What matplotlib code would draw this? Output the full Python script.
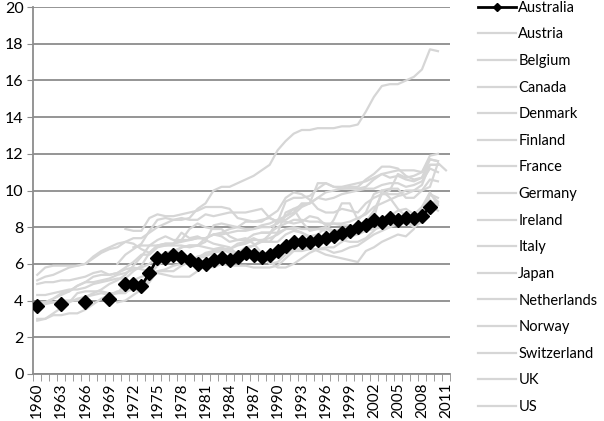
import numpy as np
import matplotlib
matplotlib.use("Agg")
import matplotlib.pyplot as plt
from matplotlib.lines import Line2D

nan = np.nan
years = list(range(1960, 2012))

# health spending, % of GDP (nan = no data)
australia = [3.7, nan, nan, 3.8, nan, nan, 3.9, nan, nan, 4.1,
             nan, 4.9, 4.9, 4.8, 5.5, 6.3, 6.3, 6.5, 6.4, 6.2,
             6.0, 6.0, 6.2, 6.3, 6.2, 6.4, 6.6, 6.5, 6.4, 6.5,
             6.7, 7.0, 7.2, 7.2, 7.2, 7.3, 7.4, 7.5, 7.7, 7.8,
             8.0, 8.1, 8.4, 8.3, 8.5, 8.4, 8.5, 8.5, 8.6, 9.1]

others = {
    "Austria": [4.3, 4.3, 4.4, 4.5, 4.6, 4.6, 4.7, 4.9, 5.0, 5.1,
                5.2, 5.2, 5.6, 5.9, 6.6, 7.0, 7.1, 7.1, 7.7, 7.4,
                7.5, 7.3, 7.1, 7.0, 6.9, 6.5, 6.8, 7.0, 7.2, 7.6,
                8.4, 8.4, 8.7, 9.1, 9.3, 9.6, 9.5, 9.6, 9.8, 9.9,
                10.0, 10.1, 10.1, 10.3, 10.4, 10.4, 10.2, 10.3, 10.5, 11.2, 11.0],
    "Belgium": [nan] * 10 +
               [3.9, 4.0, 4.3, 4.6, 5.0, 5.6, 5.7, 5.9, 6.0, 6.2,
                6.3, 6.6, 6.7, 6.8, 6.8, 7.0, 7.1, 7.3, 7.3, 7.2,
                7.2, 7.6, 7.8, 7.7, 7.5, 7.6, 8.0, 7.8, 7.9, 8.0,
                8.1, 8.3, 8.5, 10.0, 10.1, 10.1, 9.6, 9.6, 10.0, 10.6, 10.5],
    "Canada": [5.4, 5.8, 5.9, 5.9, 5.9, 5.9, 6.0, 6.3, 6.6, 6.8,
               6.9, 7.2, 7.1, 6.8, 6.6, 7.0, 7.0, 7.0, 7.0, 6.9,
               7.0, 7.2, 8.1, 8.2, 8.1, 8.0, 8.3, 8.3, 8.3, 8.6,
               8.9, 9.6, 9.9, 9.8, 9.5, 9.0, 8.8, 8.8, 9.0, 8.9,
               8.8, 9.3, 9.6, 9.8, 9.8, 9.8, 10.0, 10.0, 10.3, 11.4, 11.4],
    "Denmark": [nan] * 11 +
               [7.9, 7.8, 7.8, 8.5, 8.7, 8.6, 8.6, 8.7, 8.8,
                8.9, 9.1, 9.1, 9.1, 9.0, 8.5, 8.4, 8.3, 8.4, 8.5,
                8.3, 8.3, 8.2, 8.3, 8.6, 8.5, 8.1, 8.2, 8.2, 8.3,
                8.5, 8.7, 9.1, 9.3, 9.5, 9.7, 9.8, 10.0, 10.0, 10.2, 11.5, 11.1],
    "Finland": [3.8, 3.9, 4.1, 4.4, 4.5, 4.8, 5.0, 5.3, 5.4, 5.4,
                5.5, 5.7, 5.8, 5.7, 5.6, 6.2, 6.6, 6.7, 6.5, 6.2,
                6.3, 6.4, 6.6, 6.7, 6.8, 7.1, 7.2, 7.4, 7.2, 7.2,
                7.7, 8.8, 9.0, 8.3, 7.8, 7.9, 8.0, 7.6, 7.3, 7.2,
                7.2, 7.4, 7.8, 8.2, 8.2, 8.4, 8.3, 8.0, 8.3, 9.2, 8.9],
    "France": [3.8, 3.9, 4.1, 4.3, 4.5, 4.8, 5.0, 5.0, 5.1, 5.2,
               5.4, 5.5, 5.7, 5.8, 6.0, 6.4, 6.6, 6.7, 6.9, 7.0,
               7.0, 7.4, 7.6, 7.7, 7.9, 8.0, 7.9, 7.9, 8.1, 8.2,
               8.4, 8.6, 8.8, 9.3, 9.3, 10.4, 10.4, 10.2, 10.1, 10.1,
               10.1, 10.2, 10.6, 10.9, 11.0, 11.1, 11.1, 11.1, 11.0, 11.7, 11.6],
    "Germany": [nan] * 10 +
               [6.0, 6.5, 6.8, 7.1, 7.8, 8.4, 8.5, 8.4, 8.5, 8.4,
                8.4, 8.7, 8.6, 8.7, 8.8, 8.8, 8.8, 8.9, 9.0, 8.5,
                8.3, 9.4, 9.6, 9.6, 9.7, 10.1, 10.4, 10.2, 10.2, 10.3,
                10.4, 10.5, 10.7, 10.9, 10.7, 10.8, 10.6, 10.5, 10.7, 11.7, 11.6],
    "Ireland": [3.7, 3.8, 3.9, 4.0, 4.0, 4.0, 4.2, 4.4, 4.6, 4.9,
                5.1, 5.4, 5.9, 6.4, 7.0, 7.3, 7.5, 7.3, 7.3, 7.9,
                8.2, 8.0, 7.9, 7.9, 7.5, 7.3, 7.4, 7.1, 6.6, 6.0,
                6.1, 6.5, 6.8, 6.8, 6.9, 6.7, 6.5, 6.4, 6.3, 6.2,
                6.1, 6.7, 6.9, 7.2, 7.4, 7.6, 7.5, 7.9, 9.1, 9.9, 9.2],
    "Italy": [nan] * 28 +
             [7.7, 7.7, 7.7, 7.9, 7.9, 7.7, 7.4, 7.3, 7.4, 7.7,
              7.7, 7.8, 8.0, 8.2, 8.3, 8.3, 8.6, 8.9, 9.0, 8.7, 9.1, 9.4, 9.3],
    "Japan": [3.0, 3.0, 3.3, 3.6, 3.9, 4.4, 4.5, 4.5, 4.5, 4.4,
              4.4, 4.4, 4.8, 4.8, 5.2, 5.6, 5.6, 5.6, 5.9, 6.1,
              6.4, 6.5, 6.7, 6.8, 6.6, 6.5, 6.5, 6.6, 6.3, 6.1,
              5.8, 5.8, 6.0, 6.3, 6.6, 6.8, 6.9, 6.9, 7.2, 7.5,
              7.6, 7.8, 7.9, 8.0, 8.0, 8.2, 8.2, 8.2, 8.6, 9.5],
    "Netherlands": [nan] * 12 +
                   [6.9, 7.0, 7.0, 7.0, 7.1, 7.1, 7.3, 7.3,
                    7.4, 7.4, 7.6, 7.5, 7.2, 7.3, 7.3, 7.6, 7.7, 7.7,
                    8.0, 8.2, 8.4, 8.4, 8.3, 8.3, 8.2, 8.2, 8.1, 8.1,
                    8.0, 8.3, 8.9, 9.8, 10.0, 10.9, 10.7, 10.8, 11.0, 11.9, 12.0],
    "Norway": [2.9, 3.0, 3.2, 3.2, 3.3, 3.3, 3.5, 3.8, 4.1, 4.3,
               4.4, 4.9, 5.1, 5.3, 5.4, 5.9, 6.2, 6.5, 6.9, 7.0,
               7.0, 6.9, 6.8, 6.9, 6.7, 6.6, 6.9, 7.0, 7.3, 7.4,
               7.6, 7.9, 8.0, 7.9, 7.9, 7.9, 7.8, 8.4, 9.3, 9.3,
               8.4, 8.8, 9.8, 10.0, 9.6, 9.0, 8.6, 8.7, 8.6, 9.8, 9.4],
    "Switzerland": [4.9, 5.0, 5.0, 5.1, 5.1, 5.2, 5.3, 5.5, 5.6, 5.4,
                    5.5, 5.8, 6.1, 6.5, 6.5, 6.9, 7.0, 7.1, 7.2, 7.3,
                    7.4, 7.4, 7.6, 7.6, 7.7, 7.8, 7.8, 7.9, 8.0, 8.0,
                    8.2, 8.6, 9.0, 9.2, 9.3, 9.6, 9.9, 10.0, 10.1, 10.2,
                    10.2, 10.6, 10.9, 11.3, 11.3, 11.2, 10.8, 10.6, 10.7, 11.4, 11.4],
    "UK": [3.9, 3.9, 3.9, 3.9, 3.9, 4.1, 4.2, 4.3, 4.4, 4.3,
           4.5, 4.5, 4.6, 4.5, 5.2, 5.5, 5.4, 5.3, 5.3, 5.3,
           5.6, 5.9, 5.8, 6.0, 5.9, 5.9, 5.9, 5.8, 5.8, 5.8,
           5.9, 6.3, 6.7, 6.7, 6.8, 6.8, 6.8, 6.6, 6.7, 6.9,
           7.0, 7.3, 7.6, 7.8, 8.0, 8.2, 8.4, 8.4, 8.8, 9.8, 9.6],
    "US": [5.1, 5.3, 5.4, 5.6, 5.8, 5.9, 6.0, 6.4, 6.7, 6.9,
           7.1, 7.2, 7.4, 7.4, 7.7, 8.0, 8.2, 8.4, 8.4, 8.5,
           9.0, 9.3, 10.0, 10.2, 10.2, 10.4, 10.6, 10.8, 11.1, 11.4,
           12.2, 12.7, 13.1, 13.3, 13.3, 13.4, 13.4, 13.4, 13.5, 13.5,
           13.6, 14.3, 15.1, 15.7, 15.8, 15.8, 16.0, 16.2, 16.6, 17.7, 17.6],
}

gray = "#d6d6d6"
plt.rcParams["font.family"] = ["Lato", "DejaVu Sans"]

fig = plt.figure(figsize=(6.04, 4.21), dpi=100)
ax = fig.add_axes([0.055, 0.112, 0.69, 0.871])

for name, vals in others.items():
    ax.plot(np.arange(len(vals)), vals, color=gray, lw=1.6, zorder=2)

ax.plot(np.arange(len(australia)), australia, color="black", lw=2,
        marker="D", markersize=7, zorder=5)

ax.set_xlim(-0.5, len(years) - 0.5)
ax.set_ylim(0, 20)
ax.set_yticks(range(0, 21, 2))
ax.yaxis.grid(True, color="#8c8c8c", lw=1.3)
ax.set_axisbelow(True)

ax.set_xticks(np.arange(0, len(years), 3))
ax.set_xticklabels([str(y) for y in years[::3]], rotation=90)
ax.set_xticks(np.arange(-0.5, len(years), 1), minor=True)
ax.tick_params(axis="x", which="major", length=0, pad=6, labelsize=11)
ax.tick_params(axis="x", which="minor", length=5, color="#8c8c8c", direction="out")
ax.tick_params(axis="y", length=4, color="#8c8c8c", labelsize=11.5, pad=3)

for s in ["top", "right"]:
    ax.spines[s].set_visible(False)
for s in ["left", "bottom"]:
    ax.spines[s].set_color("#8c8c8c")
    ax.spines[s].set_linewidth(1.3)

handles = [Line2D([], [], color="black", lw=2, marker="D", markersize=4)]
handles += [Line2D([], [], color=gray, lw=1.6) for _ in others]
labels = ["Australia"] + list(others.keys())
fig.legend(handles, labels, loc="upper left", bbox_to_anchor=(0.782, 1.012),
           frameon=False, fontsize=10.5, handlelength=2.6, handletextpad=0.15,
           labelspacing=0.865, borderaxespad=0)

fig.savefig("out.png", dpi=100)
